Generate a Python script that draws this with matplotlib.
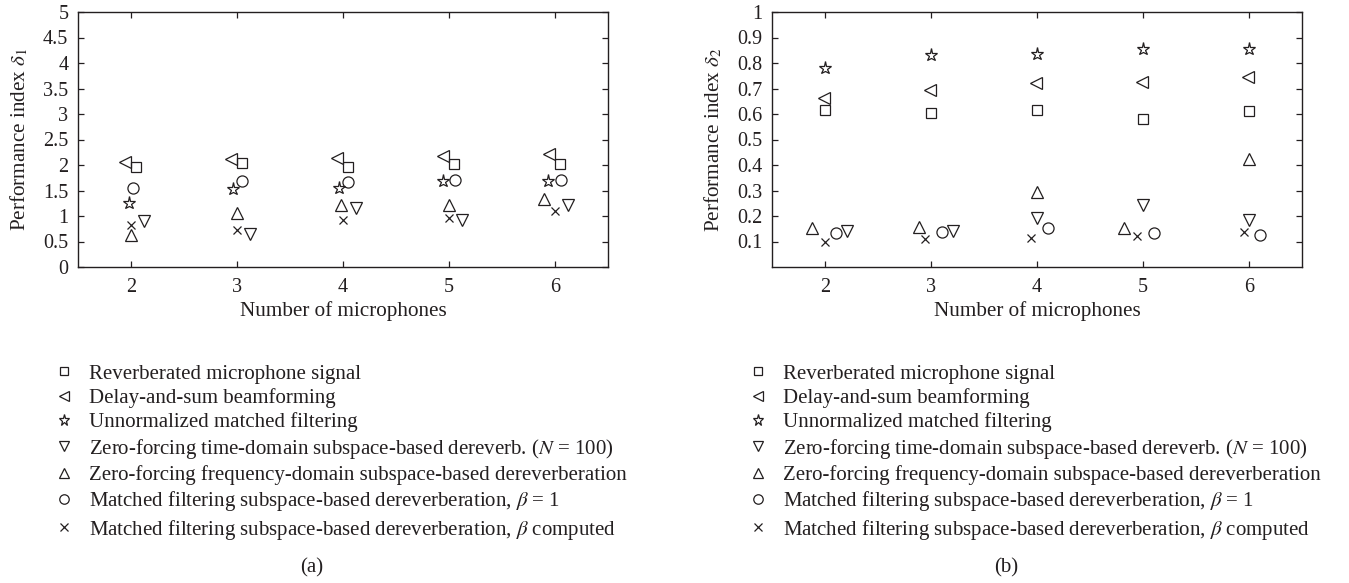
import matplotlib
matplotlib.use("Agg")
import matplotlib.pyplot as plt
from matplotlib.ticker import FormatStrFormatter

plt.rcParams['font.family'] = ['Liberation Serif', 'DejaVu Serif']
plt.rcParams['mathtext.fontset'] = 'stix'

INK = '#231f20'

mics = [2, 3, 4, 5, 6]

labels = [
    "Reverberated microphone signal",
    "Delay-and-sum beamforming",
    "Unnormalized matched filtering",
    "Zero-forcing time-domain subspace-based dereverb. ($N$ = 100)",
    "Zero-forcing frequency-domain subspace-based dereverberation",
    r"Matched filtering subspace-based dereverberation, $\beta$ = 1",
    r"Matched filtering subspace-based dereverberation, $\beta$ computed",
]
markers = ['s', '<', '*', 'v', '^', 'o', 'x']
msizes = [6.5, 8.5, 9.5, 8.5, 8.5, 8, 6]

# panel (a): performance index delta_1
reverb_a = [1.96, 2.03, 1.96, 2.01, 2.01]
das_a = [2.05, 2.12, 2.14, 2.17, 2.21]
umf_a = [1.26, 1.52, 1.54, 1.69, 1.69]
zf_time_a = [0.90, 0.64, 1.16, 0.93, 1.21]
zf_freq_a = [0.63, 1.06, 1.22, 1.22, 1.33]
mf_beta1_a = [1.54, 1.69, 1.67, 1.71, 1.71]
mf_betac_a = [0.82, 0.73, 0.93, 0.96, 1.10]

# small horizontal dodge of each symbol around its microphone count
dodge_a = [
    [0.05, 0.05, 0.05, 0.05, 0.05],
    [-0.057, -0.057, -0.057, -0.057, -0.057],
    [-0.02, -0.038, -0.038, -0.06, -0.063],
    [0.12, 0.12, 0.125, 0.125, 0.12],
    [0.0, 0.0, -0.015, 0.0, -0.10],
    [0.02, 0.044, 0.044, 0.06, 0.057],
    [0.0, 0.0, 0.0, 0.0, 0.0],
]

# panel (b): performance index delta_2
reverb_b = [0.615, 0.602, 0.615, 0.579, 0.612]
das_b = [0.663, 0.695, 0.721, 0.724, 0.747]
umf_b = [0.779, 0.831, 0.835, 0.856, 0.856]
zf_time_b = [0.142, 0.142, 0.192, 0.243, 0.184]
zf_freq_b = [0.154, 0.157, 0.294, 0.151, 0.423]
mf_beta1_b = [0.132, 0.136, 0.154, 0.133, 0.126]
mf_betac_b = [0.097, 0.109, 0.114, 0.122, 0.136]

dodge_b = [
    [0.0, 0.0, 0.0, 0.0, 0.0],
    [-0.01, -0.005, -0.01, -0.01, -0.01],
    [0.0, 0.0, 0.0, 0.0, 0.0],
    [0.21, 0.205, 0.0, 0.0, 0.0],
    [-0.12, -0.116, 0.0, -0.18, 0.0],
    [0.1, 0.1, 0.1, 0.1, 0.107],
    [0.0, -0.06, -0.06, -0.06, -0.05],
]

series_a = [reverb_a, das_a, umf_a, zf_time_a, zf_freq_a, mf_beta1_a, mf_betac_a]
series_b = [reverb_b, das_b, umf_b, zf_time_b, zf_freq_b, mf_beta1_b, mf_betac_b]

fig = plt.figure(figsize=(13.49, 5.83), dpi=100)
W, H = 1349, 583


def draw_panel(left_px, series, dodge, ylim, yticks, ylabel, caption):
    ax = fig.add_axes([left_px / W, (H - 267) / H, 530 / W, 255 / H])
    handles = []
    for vals, dx, mk, ms, lab in zip(series, dodge, markers, msizes, labels):
        xs = [m + d for m, d in zip(mics, dx)]
        h, = ax.plot(xs, vals, linestyle='none', marker=mk, markersize=ms,
                     markerfacecolor='none', markeredgecolor=INK,
                     markeredgewidth=0.9, color=INK, label=lab)
        handles.append(h)
    ax.set_xlim(1.5, 6.5)
    ax.set_ylim(*ylim)
    ax.set_xticks(mics)
    ax.set_yticks(yticks)
    ax.yaxis.set_major_formatter(FormatStrFormatter('%g'))
    ax.tick_params(direction='in', top=True, right=True, length=4, width=0.9,
                   color=INK, labelcolor=INK, labelsize=14.5)
    ax.tick_params(axis='x', pad=8)
    ax.tick_params(axis='y', pad=7)
    for sp in ax.spines.values():
        sp.set_color(INK)
        sp.set_linewidth(1.0)
    ax.set_xlabel("Number of microphones", fontsize=15.2, color=INK, labelpad=3)
    ax.set_ylabel(ylabel, fontsize=15.2, color=INK)
    ax.yaxis.set_label_coords(-48 / 530, 0.5)

    fig.legend(handles=handles, loc='upper left',
               bbox_to_anchor=((left_px - 24) / W, (H - 364) / H),
               bbox_transform=fig.transFigure, frameon=False,
               fontsize=15, borderpad=0, borderaxespad=0,
               handlelength=1.0, handletextpad=0.7, labelspacing=0.21,
               markerscale=0.85, labelcolor=INK)
    fig.text((left_px + 234) / W, (H - 568) / H, caption, fontsize=15,
             color=INK, ha='center', va='center')
    return ax


draw_panel(78, series_a, dodge_a, (0, 5), [0, 0.5, 1, 1.5, 2, 2.5, 3, 3.5, 4, 4.5, 5],
           r"Performance index $\delta_1$", "(a)")
draw_panel(772, series_b, dodge_b, (0, 1), [0.1, 0.2, 0.3, 0.4, 0.5, 0.6, 0.7, 0.8, 0.9, 1],
           r"Performance index $\delta_2$", "(b)")

fig.savefig("out.png", dpi=100)
